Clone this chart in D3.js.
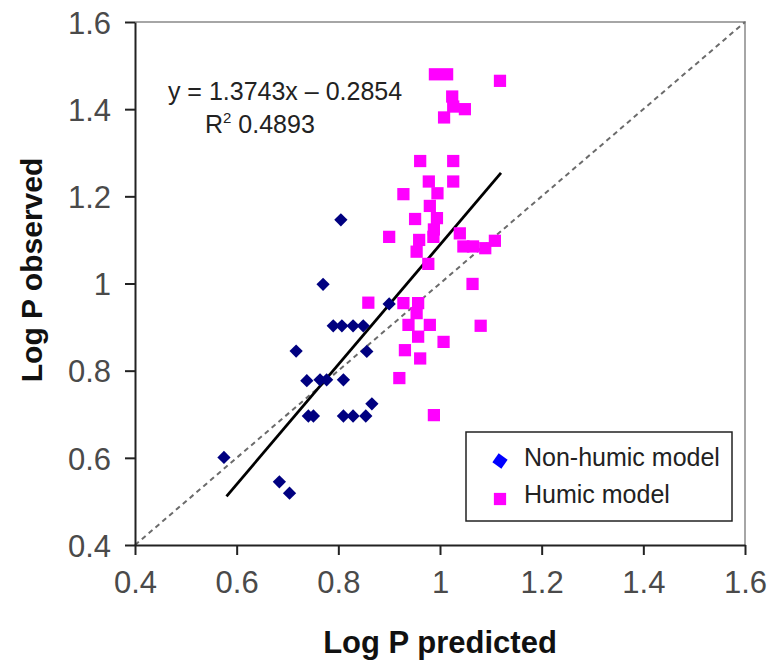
<!DOCTYPE html>
<html><head><meta charset="utf-8">
<script src="https://cdn.jsdelivr.net/npm/d3@7"></script>
<style>body{margin:0;background:#fff;} svg{display:block;font-family:"Liberation Sans",Arial,sans-serif;}</style>
</head><body>
<svg id="c" width="769" height="665"></svg>
<script>
// ---- data ----
const nonHumicPred = [0.805,0.770,0.900,0.790,0.807,0.829,0.849,0.717,0.856,0.738,0.764,0.777,0.810,0.866,0.741,0.751,0.810,0.829,0.854,0.575,0.684,0.704];
const nonHumicObs  = [1.146,0.998,0.953,0.903,0.903,0.903,0.903,0.845,0.844,0.777,0.779,0.779,0.779,0.724,0.696,0.696,0.696,0.696,0.696,0.601,0.545,0.519];
const humicPred = [0.990,1.014,1.118,1.024,1.026,1.049,1.008,0.961,1.026,0.978,1.026,0.928,0.995,0.980,0.951,0.994,0.988,0.900,0.959,0.987,1.039,0.954,1.046,1.065,1.089,1.108,0.977,1.064,0.859,0.928,0.957,0.954,0.938,0.980,0.957,1.080,1.007,0.931,0.961,0.920,0.988];
const humicObs  = [1.480,1.480,1.465,1.429,1.406,1.400,1.381,1.281,1.281,1.234,1.234,1.205,1.207,1.178,1.148,1.150,1.124,1.107,1.100,1.107,1.115,1.073,1.085,1.085,1.081,1.098,1.045,0.999,0.956,0.955,0.955,0.932,0.905,0.905,0.878,0.903,0.866,0.847,0.828,0.783,0.698];
const xTicks = [0.4,0.6,0.8,1.0,1.2,1.4,1.6];
const yTicks = [0.4,0.6,0.8,1.0,1.2,1.4,1.6];
const slope = 1.3743, intercept = -0.2854;
const trendRange = [0.58, 1.12];
const seriesNames = ["Non-humic model","Humic model"];
const eqText = "y = 1.3743x – 0.2854";
const r2Value = "0.4893";

// ---- layout ----
const svg = d3.select("#c");
const L = 135, R = 745, T = 22, B = 545;
const x = d3.scaleLinear().domain([0.4,1.6]).range([L,R]);
const y = d3.scaleLinear().domain([0.4,1.6]).range([B,T]);
const fmt = d => (d===1 ? "1" : d3.format(".1f")(d));

// frame (top & right gray)
svg.append("path").attr("d",`M${L},${T}H${R}V${B}`).attr("fill","none").attr("stroke","#a6a6a6").attr("stroke-width",2);

// 1:1 dashed line
svg.append("line").attr("x1",x(0.4)).attr("y1",y(0.4)).attr("x2",x(1.6)).attr("y2",y(1.6))
  .attr("stroke","#6b6b6b").attr("stroke-width",2).attr("stroke-dasharray","5,4");

// axes
const xAxis = svg.append("g").attr("transform",`translate(0,${B})`)
  .call(d3.axisBottom(x).tickValues(xTicks).tickFormat(fmt).tickSize(10).tickPadding(16).tickSizeOuter(0));
const yAxis = svg.append("g").attr("transform",`translate(${L},0)`)
  .call(d3.axisLeft(y).tickValues(yTicks).tickFormat(fmt).tickSize(10).tickPadding(14).tickSizeOuter(0));
[xAxis,yAxis].forEach(g=>{
  g.select(".domain").attr("stroke","#222").attr("stroke-width",2);
  g.selectAll(".tick line").attr("stroke","#222").attr("stroke-width",2);
  g.selectAll(".tick text").attr("fill","#4a4a4a").attr("font-size",31).attr("font-family","'Liberation Sans',Arial,sans-serif");
});
xAxis.selectAll(".tick text").attr("dy","0.71em");
yAxis.selectAll(".tick text").attr("dy","0.36em");

// trend line
svg.append("line").attr("x1",x(trendRange[0])).attr("y1",y(slope*trendRange[0]+intercept))
  .attr("x2",x(trendRange[1])).attr("y2",y(slope*trendRange[1]+intercept))
  .attr("stroke","#000").attr("stroke-width",2.8);

// points
const sq = d3.symbol().type(d3.symbolSquare);
svg.append("g").selectAll("path").data(humicPred.map((p,i)=>[p,humicObs[i]])).join("path")
  .attr("d",sq.size(150)()).attr("fill","#ff00ff")
  .attr("transform",d=>`translate(${x(d[0])},${y(d[1])})`);
svg.append("g").selectAll("path").data(nonHumicPred.map((p,i)=>[p,nonHumicObs[i]])).join("path")
  .attr("d",sq.size(88)()).attr("fill","#000080")
  .attr("transform",d=>`translate(${x(d[0])},${y(d[1])}) rotate(45)`);

// equation
svg.append("text").attr("x",285).attr("y",100).attr("text-anchor","middle").attr("font-size",25).attr("fill","#222").text(eqText);
const r2 = svg.append("text").attr("x",205).attr("y",133).attr("font-size",25).attr("fill","#222");
r2.append("tspan").text("R");
r2.append("tspan").attr("font-size",15).attr("dy",-10).text("2");
r2.append("tspan").attr("dy",10).text(" " + r2Value);

// axis titles
svg.append("text").attr("x",440).attr("y",653).attr("text-anchor","middle").attr("font-size",31).attr("font-weight","bold").attr("fill","#111").text("Log P predicted");
svg.append("text").attr("transform","translate(42,270) rotate(-90)").attr("text-anchor","middle").attr("font-size",30).attr("font-weight","bold").attr("fill","#111").text("Log P observed");

// legend
const lg = svg.append("g");
lg.append("rect").attr("x",466).attr("y",432).attr("width",266).attr("height",89).attr("fill","#fff").attr("stroke","#222").attr("stroke-width",1.5);
lg.append("path").attr("d",sq.size(120)()).attr("fill","#0000ff").attr("transform","translate(500,461) rotate(35)");
lg.append("path").attr("d",sq.size(150)()).attr("fill","#ff00ff").attr("transform","translate(500,499)");
lg.append("text").attr("x",524).attr("y",466).attr("font-size",25).attr("fill","#222").text(seriesNames[0]);
lg.append("text").attr("x",524).attr("y",503).attr("font-size",25).attr("fill","#222").text(seriesNames[1]);
</script>
</body></html>
